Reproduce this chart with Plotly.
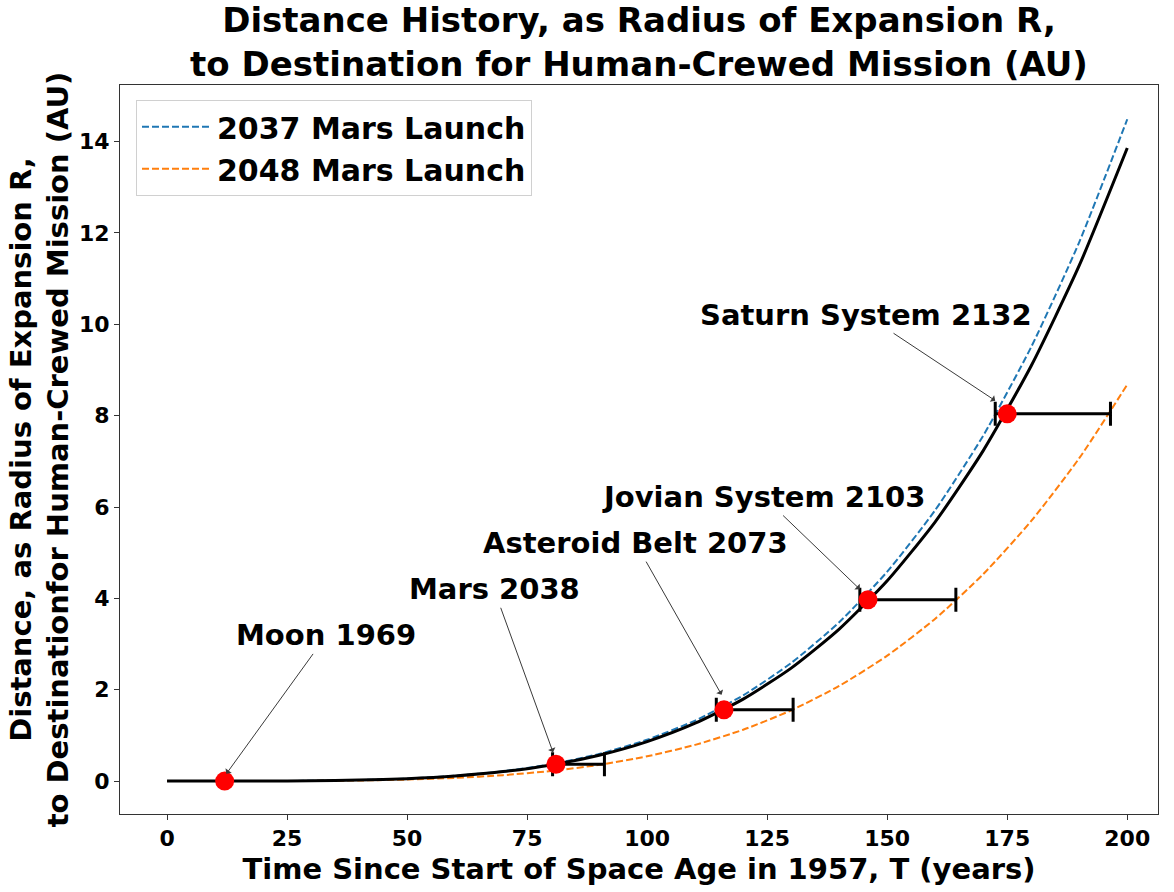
import plotly.graph_objects as go

# ---------------- data ----------------
T_years = [0, 10, 20, 30, 40, 50, 60, 70, 80, 90, 100,
           110, 120, 130, 140, 150, 160, 170, 180, 190, 200]
R_expansion = [0.0, 0.0001, 0.0014, 0.007, 0.022, 0.054, 0.112, 0.208, 0.355, 0.568, 0.866,
               1.268, 1.796, 2.474, 3.328, 4.385, 5.677, 7.235, 9.094, 11.289, 13.86]
R_launch_2037 = [0.0, 0.0001, 0.0014, 0.0073, 0.023, 0.057, 0.117, 0.217, 0.371, 0.594, 0.906,
                 1.326, 1.878, 2.587, 3.479, 4.585, 5.935, 7.564, 9.507, 11.802, 14.49]
R_launch_2048 = [0.0, 0.0001, 0.0009, 0.0044, 0.014, 0.034, 0.070, 0.130, 0.222, 0.356, 0.543,
                 0.794, 1.125, 1.549, 2.084, 2.746, 3.555, 4.531, 5.695, 7.070, 8.68]

milestone_labels = ["Moon 1969", "Mars 2038", "Asteroid Belt 2073",
                    "Jovian System 2103", "Saturn System 2132"]
milestone_T = [12, 81, 116, 146, 175]
milestone_R = [0.0, 0.37, 1.56, 3.97, 8.04]

# horizontal error bars (no bar for the Moon)
err_T = [81, 116, 146, 175]
err_R = [0.37, 1.56, 3.97, 8.04]
err_minus = [0.7, 1.6, 1.7, 2.5]
err_plus = [10.1, 14.4, 18.3, 21.5]

series_names = ["2037 Mars Launch", "2048 Mars Launch"]
x_ticks = [0, 25, 50, 75, 100, 125, 150, 175, 200]
y_ticks = [0, 2, 4, 6, 8, 10, 12, 14]

# ---------------- layout helpers (positions of annotation texts / arrow tips) ----------------
label_pos = [(33.2, 3.19), (68.1, 4.20), (97.6, 5.21), (124.3, 6.22), (145.5, 10.21)]
arrow_tip = [(12.35, 0.16), (80.4, 0.63), (115.5, 1.89), (144.3, 4.20), (172.5, 8.33)]

FONT = "DejaVu Sans"

fig = go.Figure()

fig.add_trace(go.Scatter(
    x=T_years, y=R_launch_2037, mode="lines", name=series_names[0],
    line=dict(color="#1f77b4", width=2, dash="7px,3px", shape="spline", smoothing=0.6)))
fig.add_trace(go.Scatter(
    x=T_years, y=R_launch_2048, mode="lines", name=series_names[1],
    line=dict(color="#ff7f0e", width=2, dash="7px,3px", shape="spline", smoothing=0.6)))
fig.add_trace(go.Scatter(
    x=T_years, y=R_expansion, mode="lines", showlegend=False,
    line=dict(color="black", width=3, shape="spline", smoothing=0.6)))

fig.add_trace(go.Scatter(
    x=err_T, y=err_R, mode="markers", showlegend=False,
    marker=dict(size=1, color="rgba(0,0,0,0)"),
    error_x=dict(type="data", symmetric=False, array=err_plus, arrayminus=err_minus,
                 color="black", thickness=3, width=12)))

fig.add_trace(go.Scatter(
    x=milestone_T, y=milestone_R, mode="markers", showlegend=False,
    marker=dict(size=19, color="#ff0000", line=dict(width=0))))

annotations = []
for lab, (tx, ty), (px, py) in zip(milestone_labels, label_pos, arrow_tip):
    annotations.append(dict(
        x=px, y=py, xref="x", yref="y", ax=tx, ay=ty, axref="x", ayref="y",
        text=lab, showarrow=True, arrowhead=1, arrowsize=1.3, arrowwidth=1,
        arrowcolor="#3a3a3a",
        font=dict(family=FONT, size=29, color="black", weight="bold")))

fig.update_layout(
    width=1174, height=892,
    margin=dict(l=120, r=16, t=85, b=70),
    paper_bgcolor="white", plot_bgcolor="white",
    title=dict(
        text="Distance History, as Radius of Expansion R,<br>to Destination for Human-Crewed Mission (AU)",
        x=0.5, xref="paper", xanchor="center",
        y=1 - 32 / 892, yref="container", yanchor="middle",
        font=dict(family=FONT, size=34, color="black", weight="bold")),
    legend=dict(
        x=0.0154, y=0.9796, xanchor="left", yanchor="top",
        bgcolor="white", bordercolor="#d0d0d0", borderwidth=1,
        itemwidth=70, tracegroupgap=0,
        font=dict(family=FONT, size=30, color="black", weight="bold")),
    annotations=annotations,
)

fig.update_xaxes(
    range=[-9.8, 206.4], tickvals=x_ticks, ticks="outside", ticklen=5, tickcolor="#333",
    showline=True, linecolor="#333", linewidth=1, mirror=True, showgrid=False, zeroline=False,
    tickfont=dict(family=FONT, size=22, color="black", weight="bold"),
    title=dict(text="Time Since Start of Space Age in 1957, T (years)", standoff=8,
               font=dict(family=FONT, size=29, color="black", weight="bold")))
fig.update_yaxes(
    range=[-0.72, 15.24], tickvals=y_ticks, ticks="outside", ticklen=5, tickcolor="#333",
    showline=True, linecolor="#333", linewidth=1, mirror=True, showgrid=False, zeroline=False,
    tickfont=dict(family=FONT, size=22, color="black", weight="bold"),
    title=dict(text="Distance, as Radius of Expansion R,<br>to Destinationfor Human-Crewed Mission (AU)",
               standoff=1,
               font=dict(family=FONT, size=29, color="black", weight="bold")))

fig.write_html("out.html", config={"displayModeBar": False},
               post_script="document.body.style.margin='0';")
